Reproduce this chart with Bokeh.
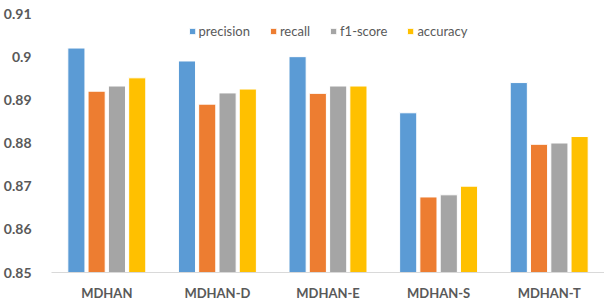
from bokeh.plotting import figure
from bokeh.models import ColumnDataSource, FactorRange, Range1d, FixedTicker, CustomJSTickFormatter, Legend, LegendItem
from bokeh.transform import dodge
from bokeh.embed import file_html
from bokeh.resources import INLINE

categories = ["MDHAN", "MDHAN-D", "MDHAN-E", "MDHAN-S", "MDHAN-T"]
precision = [0.902, 0.899, 0.900, 0.887, 0.894]
recall = [0.892, 0.889, 0.8915, 0.8675, 0.8797]
f1_score = [0.8932, 0.8916, 0.8932, 0.868, 0.880]
accuracy = [0.8951, 0.8925, 0.8932, 0.870, 0.8815]
series_names = ["precision", "recall", "f1-score", "accuracy"]
y_ticks = [0.85, 0.86, 0.87, 0.88, 0.89, 0.90, 0.91]

colors = ["#5B9BD5", "#ED7D31", "#A5A5A5", "#FFC000"]
offsets = [-0.275, -0.092, 0.092, 0.275]

source = ColumnDataSource(dict(cat=categories, precision=precision, recall=recall,
                               f1=f1_score, accuracy=accuracy))
cols = ["precision", "recall", "f1", "accuracy"]

p = figure(x_range=FactorRange(*categories), y_range=Range1d(0.85, 0.91),
           width=604, height=303, output_backend="svg", toolbar_location=None,
           min_border_left=50, min_border_right=0, min_border_top=13, min_border_bottom=31)

items = []
for col, name, color, off in zip(cols, series_names, colors, offsets):
    r = p.vbar(x=dodge("cat", off, range=p.x_range), top=col, bottom=0.85, width=0.155,
               source=source, fill_color=color, line_color="white", line_width=1)
    items.append(LegendItem(label=name, renderers=[r]))

legend = Legend(items=items, orientation="horizontal", location="top_center",
                glyph_width=8, glyph_height=8, label_height=14, label_standoff=3,
                spacing=19, padding=0, margin=10, border_line_color=None,
                background_fill_alpha=0, label_text_font="Lato",
                label_text_font_size="13px", label_text_color="#595959")
p.add_layout(legend, "center")

p.xgrid.grid_line_color = None
p.ygrid.grid_line_color = None
p.outline_line_color = None

p.yaxis.ticker = FixedTicker(ticks=y_ticks)
p.yaxis.formatter = CustomJSTickFormatter(code="return parseFloat(tick.toFixed(2)).toString();")
p.yaxis.axis_line_color = None
p.yaxis.major_tick_line_color = None
p.yaxis.minor_tick_line_color = None
p.yaxis.major_label_text_font = "Lato"
p.yaxis.major_label_text_font_style = "bold"
p.yaxis.major_label_text_font_size = "14px"
p.yaxis.major_label_text_color = "#595959"
p.yaxis.major_label_standoff = 14

p.xaxis.axis_line_color = "#D9D9D9"
p.xaxis.major_tick_line_color = None
p.xaxis.minor_tick_line_color = None
p.xaxis.major_label_text_font = "Lato"
p.xaxis.major_label_text_font_style = "bold"
p.xaxis.major_label_text_font_size = "13px"
p.xaxis.major_label_text_color = "#595959"
p.xaxis.major_label_standoff = 6

open("out.html", "w").write(file_html(p, INLINE))
